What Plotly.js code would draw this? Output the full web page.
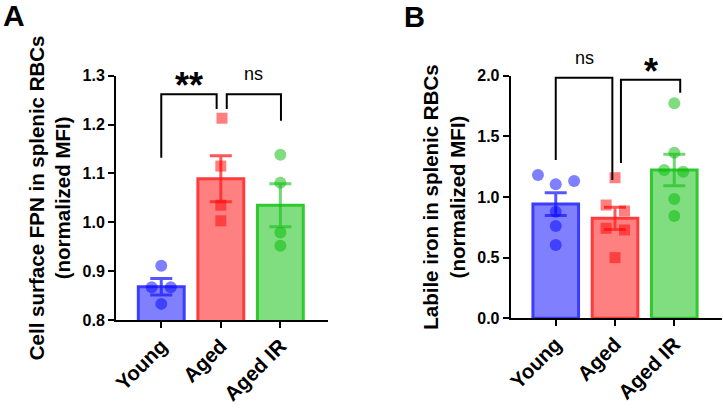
<!DOCTYPE html>
<html>
<head>
<meta charset="utf-8">
<script src="https://cdn.plot.ly/plotly-3.0.1.min.js"></script>
<style>
  body { margin: 0; background: #fff; }
  #chart { width: 723px; height: 409px; }
</style>
</head>
<body>
<div id="chart"></div>
<script>
/** ---------------- data ---------------- **/
let groups = ["Young", "Aged", "Aged IR"];

// panel A : cell surface FPN (normalized MFI)
let fpnMean = [0.868, 1.089, 1.035];
let fpnSem = [0.017, 0.047, 0.044];
let fpnYoung = [0.911, 0.867, 0.867, 0.833];
let fpnAged = [1.213, 1.115, 1.035, 1.003];
let fpnAgedIR = [1.138, 1.081, 0.979, 0.952];
// horizontal scatter of the dots (category units)
let fpnYoungDx = [0, -0.16, 0.16, 0];
let fpnAgedDx = [0.02, 0, 0, 0];
let fpnAgedIRDx = [0, 0, 0, 0];

// panel B : labile iron (normalized MFI)
let ironMean = [0.942, 0.824, 1.223];
let ironSem = [0.094, 0.092, 0.13];
let ironYoung = [1.181, 1.105, 1.132, 0.879, 0.761, 0.604];
let ironAged = [1.159, 0.934, 0.885, 0.742, 0.728, 0.5];
let ironAgedIR = [1.772, 1.365, 1.223, 1.209, 0.983, 0.843];
let ironYoungDx = [-0.3, 0, 0.31, 0, 0, 0];
let ironAgedDx = [0, -0.15, 0.16, -0.15, 0.16, 0];
let ironAgedIRDx = [0, 0, -0.17, 0.15, 0, 0];

// significance brackets: [x left, x right, y top, left leg end, right leg end]
let fpnBrackets = [[0, 0.93, 1.262, 1.132, 1.232], [1.1, 2.01, 1.262, 1.232, 1.208]];
let fpnStars = ["**", "ns"];
let ironBrackets = [[0, 0.955, 1.984, 1.305, 1.14], [1.1, 2.1, 1.967, 1.28, 1.86]];
let ironStars = ["ns", "*"];

/** ---------------- styles ---------------- **/
let fillCol = ["rgb(128,128,255)", "rgb(255,128,128)", "rgb(128,221,128)"];
let edgeCol = ["rgb(60,60,255)", "rgb(255,60,60)", "rgb(50,200,50)"];
let dotCol = ["rgba(0,0,255,0.5)", "rgba(255,0,0,0.5)", "rgba(0,187,0,0.5)"];
let errCol = ["rgba(30,30,255,0.75)", "rgba(255,30,30,0.75)", "rgba(20,190,20,0.6)"];
let dotSymbol = ["circle", "square", "circle"];
let font = "Liberation Sans, Arial, sans-serif";

function addOffset(i, dx) {
    return dx.map(function (d) { return i + d; });
}

function panelTraces(means, sems, points, offsets, xa, ya) {
    let traces = [];
    for (let i = 0; i < groups.length; i++) {
        traces.push({
            type: "bar",
            x: [i],
            y: [means[i]],
            width: 0.77,
            xaxis: xa, yaxis: ya,
            marker: {color: fillCol[i], line: {color: edgeCol[i], width: 3}},
            error_y: {type: "data", array: [sems[i]], visible: true,
                color: errCol[i], thickness: 3, width: 11},
            hoverinfo: "skip",
            showlegend: false
        });
    }
    for (let i = 0; i < groups.length; i++) {
        traces.push({
            type: "scatter",
            mode: "markers",
            x: addOffset(i, offsets[i]),
            y: points[i],
            xaxis: xa, yaxis: ya,
            marker: {color: dotCol[i], size: dotSymbol[i] == "square" ? 11 : 12,
                symbol: dotSymbol[i], line: {width: 0}},
            cliponaxis: false,
            showlegend: false
        });
    }
    return traces;
}

function bracketShapes(brackets, xa, ya) {
    return brackets.map(function (b) {
        return {
            type: "path", xref: xa, yref: ya,
            path: "M " + b[0] + "," + b[3] + " L " + b[0] + "," + b[2] +
                " L " + b[1] + "," + b[2] + " L " + b[1] + "," + b[4],
            line: {color: "black", width: 2}
        };
    });
}

// labels sit on the bracket top, shifted up in pixels
function bracketLabels(brackets, labels, xa, ya) {
    return brackets.map(function (b, k) {
        let star = labels[k].indexOf("*") >= 0;
        return {
            xref: xa, yref: ya,
            x: (b[0] + b[1]) / 2,
            y: b[2],
            text: labels[k],
            showarrow: false,
            yanchor: "bottom",
            yshift: star ? -14 : 8,
            font: star ? {family: font, size: 36, weight: "bold", color: "black"}
                       : {family: font, size: 18, color: "black"}
        };
    });
}

let data = []
    .concat(panelTraces(fpnMean, fpnSem, [fpnYoung, fpnAged, fpnAgedIR],
        [fpnYoungDx, fpnAgedDx, fpnAgedIRDx], "x", "y"))
    .concat(panelTraces(ironMean, ironSem, [ironYoung, ironAged, ironAgedIR],
        [ironYoungDx, ironAgedDx, ironAgedIRDx], "x2", "y2"));

let xBase = {
    range: [-0.76, 2.8],
    tickvals: [0, 1, 2],
    ticktext: groups,
    tickangle: -45,
    ticklabelstandoff: -2,
    ticks: "outside", ticklen: 6, tickwidth: 2, tickcolor: "black",
    showline: true, linewidth: 2, linecolor: "black",
    showgrid: false, zeroline: false,
    tickfont: {family: font, size: 20.5, weight: "bold", color: "black"}
};

function yAxis(range, dtick, title, domain) {
    return {
        range: range, dtick: dtick, tickformat: ".1f",
        domain: domain,
        ticks: "outside", ticklen: 6, tickwidth: 2, tickcolor: "black",
        showline: true, linewidth: 2, linecolor: "black",
        showgrid: false, zeroline: false,
        tickfont: {family: font, size: 16, weight: "bold", color: "black"},
        title: {text: title, standoff: 6,
            font: {family: font, size: 20.5, weight: "bold", color: "black"}}
    };
}

let layout = {
    width: 723, height: 409,
    margin: {l: 0, r: 0, t: 0, b: 0},
    paper_bgcolor: "white", plot_bgcolor: "white",
    barmode: "overlay",
    xaxis: Object.assign({}, xBase, {domain: [116 / 723, 328 / 723], anchor: "y"}),
    xaxis2: Object.assign({}, xBase, {domain: [510.7 / 723, 721.7 / 723], anchor: "y2"}),
    yaxis: yAxis([0.8, 1.3], 0.1, "Cell surface FPN in splenic RBCs<br>(normalized MFI)",
        [1 - 320 / 409, 1 - 75.7 / 409]),
    yaxis2: Object.assign(yAxis([0, 2.0], 0.5, "Labile iron in splenic RBCs<br>(normalized MFI)",
        [1 - 318.3 / 409, 1 - 75.7 / 409]), {anchor: "x2"}),
    shapes: bracketShapes(fpnBrackets, "x", "y").concat(bracketShapes(ironBrackets, "x2", "y2")),
    annotations: bracketLabels(fpnBrackets, fpnStars, "x", "y")
        .concat(bracketLabels(ironBrackets, ironStars, "x2", "y2"))
        .concat([
            {xref: "paper", yref: "paper", x: 14 / 723, y: 1 - 15 / 409, text: "A",
                xanchor: "center", yanchor: "middle", showarrow: false,
                font: {family: font, size: 30, weight: "bold", color: "black"}},
            {xref: "paper", yref: "paper", x: 414 / 723, y: 1 - 17 / 409, text: "B",
                xanchor: "center", yanchor: "middle", showarrow: false,
                font: {family: font, size: 29, weight: "bold", color: "black"}}
        ])
};

Plotly.newPlot("chart", data, layout, {displayModeBar: false, staticPlot: true});
</script>
</body>
</html>
